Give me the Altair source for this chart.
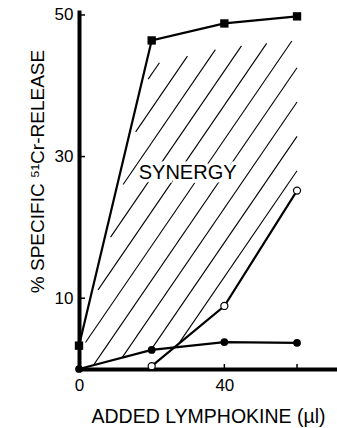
import altair as alt
import pandas as pd
import numpy as np

# ---- data ----
dose_sq = [0, 20, 40, 60]
rel_sq = [3.3, 46.4, 48.8, 49.8]          # filled squares (upper curve)
dose_fc = [0, 20, 40, 60]
rel_fc = [0.0, 2.7, 3.8, 3.7]              # filled circles
dose_oc = [20, 40, 60]
rel_oc = [0.4, 8.9, 25.2]                  # open circles

x_label_vals = [0, 40]
x_tick_vals = [20, 40, 60]
y_label_vals = [10, 30, 50]

synergy_x = [29.9]
synergy_y = [27.7]
synergy_txt = ["SYNERGY"]

# hatch geometry (style)
hatch_slope = 0.75
hatch_top = 47.4
hatch_step = 4.85
hatch_gap = 3.4

W, H = 258, 359
FONT = "Liberation Sans"

# ---- hatch lines clipped to the synergy region ----
xs = np.linspace(0, 60, 6001)
upper = np.interp(xs, dose_sq, rel_sq) - hatch_gap
low_f = np.interp(xs, dose_fc, rel_fc)
low_o = np.where(xs >= dose_oc[0], np.interp(xs, dose_oc, rel_oc), -1e9)
lower = np.maximum(low_f, low_o)
segs = []
for k in range(-15, 30):
    c = hatch_top - hatch_step * k
    h = c + hatch_slope * (xs - 60)
    m = (h >= lower) & (h <= upper)
    if not m.any():
        continue
    idx = np.where(m)[0]
    breaks = np.where(np.diff(idx) > 1)[0]
    starts = np.concatenate([[idx[0]], idx[breaks + 1]])
    ends = np.concatenate([idx[breaks], [idx[-1]]])
    for s, e in zip(starts, ends):
        if e - s < 60:
            continue
        segs.append(dict(x=xs[s], y=h[s], x2=xs[e], y2=h[e]))
hatch = pd.DataFrame(segs)

sq = pd.DataFrame({"x": dose_sq, "y": rel_sq})
fc = pd.DataFrame({"x": dose_fc, "y": rel_fc})
oc = pd.DataFrame({"x": dose_oc, "y": rel_oc})

xscale = alt.Scale(domain=[0, 71], nice=False, zero=False)
yscale = alt.Scale(domain=[0, 50.7], nice=False, zero=False)

xaxis = alt.Axis(values=x_label_vals, title="ADDED LYMPHOKINE (µl)", grid=False,
                 domainWidth=4, domainColor="black", tickSize=0, labelPadding=8,
                 labelFontSize=17, labelFont=FONT, labelColor="black",
                 titleFont=FONT, titleFontSize=19.5, titleFontWeight="normal",
                 titleColor="black", titleBaseline="alphabetic", titleY=53,
                 labelFlush=False)
yaxis = alt.Axis(values=y_label_vals, title="% SPECIFIC ⁵¹Cr-RELEASE", grid=False,
                 domainWidth=4, domainColor="black", tickSize=0, labelPadding=6,
                 labelFontSize=17, labelFont=FONT, labelColor="black",
                 titleFont=FONT, titleFontSize=19, titleFontWeight="normal",
                 titleColor="black", titleBaseline="alphabetic", titleAngle=-90,
                 titleX=-36, titleY=161, titleAlign="center", labelFlush=False)


def X(f):
    return alt.X(f, type="quantitative", scale=xscale, axis=xaxis)


def Y(f):
    return alt.Y(f, type="quantitative", scale=yscale, axis=yaxis)


hatch_layer = alt.Chart(hatch).mark_rule(color="black", strokeWidth=1.1).encode(
    x=X("x"), y=Y("y"), x2="x2", y2="y2")

line_sq = alt.Chart(sq).mark_line(color="black", strokeWidth=2.2).encode(x=X("x"), y=Y("y"))
pts_sq = alt.Chart(sq).mark_point(shape="square", filled=True, color="black", size=70, opacity=1).encode(x=X("x"), y=Y("y"))
line_fc = alt.Chart(fc).mark_line(color="black", strokeWidth=2.2).encode(x=X("x"), y=Y("y"))
pts_fc = alt.Chart(fc).mark_point(shape="circle", filled=True, color="black", size=60, opacity=1).encode(x=X("x"), y=Y("y"))
line_oc = alt.Chart(oc).mark_line(color="black", strokeWidth=2.2).encode(x=X("x"), y=Y("y"))
pts_oc = alt.Chart(oc).mark_point(shape="circle", filled=True, fill="white", stroke="black",
                                   strokeWidth=1.2, size=50, opacity=1).encode(x=X("x"), y=Y("y"))

ytick = alt.Chart(pd.DataFrame({"v": y_label_vals})).mark_rule(color="black", strokeWidth=1.5).encode(
    y=Y("v"), x=alt.value(0), x2=alt.value(6))
xtick = alt.Chart(pd.DataFrame({"v": x_tick_vals})).mark_rule(color="black", strokeWidth=1.5).encode(
    x=X("v"), y=alt.value(H), y2=alt.value(H - 5))

txt_df = pd.DataFrame({"x": synergy_x, "y": synergy_y, "t": synergy_txt})
txt_halo = alt.Chart(txt_df).mark_text(
    font=FONT, fontSize=20, color="white", stroke="white", strokeWidth=7,
    align="center", baseline="middle").encode(x=X("x"), y=Y("y"), text="t")
txt = alt.Chart(txt_df).mark_text(
    font=FONT, fontSize=20, color="black", align="center", baseline="middle").encode(
    x=X("x"), y=Y("y"), text="t")

chart = alt.layer(hatch_layer, line_sq, line_fc, line_oc, ytick, xtick,
                  pts_sq, pts_fc, pts_oc, txt_halo, txt).properties(
    width=W, height=H,
    autosize=alt.AutoSizeParams(type="none"),
    padding={"left": 79, "top": 10, "right": 0, "bottom": 428 - 10 - H},
    background="white",
).configure_view(stroke=None)

chart.save("out.html", embed_options={"renderer": "svg", "actions": False})
